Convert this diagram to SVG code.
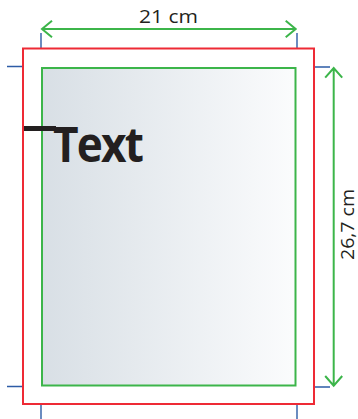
<svg xmlns="http://www.w3.org/2000/svg" width="358" height="419" viewBox="0 0 358 419">
<defs>
<linearGradient id="paper" x1="0" y1="0" x2="1" y2="0">
<stop offset="0" stop-color="#d8dfe5"/>
<stop offset="1" stop-color="#fbfcfd"/>
</linearGradient>
<style>
.crop{stroke:#2d5ca6;stroke-width:1.4;fill:none}
.dim{stroke:#3cb54a;stroke-width:2;fill:none}
.lbl{font-family:"Open Sans","DejaVu Sans",sans-serif;font-size:18px;fill:#231f20}
</style>
</defs>
<rect width="358" height="419" fill="#ffffff"/>
<g id="crop-marks">
<path class="crop" d="M41 33V48M297 33V48M41 405V419M297 405V419M7 66.5H23M315 67H330M7 386.5H23M315 387H330"/>
</g>
<g id="bleed">
<rect x="23" y="48.5" width="291" height="355.5" fill="#ffffff" stroke="#ee2a35" stroke-width="2"/>
</g>
<g id="page">
<rect x="42" y="68" width="253.5" height="317.5" fill="url(#paper)" stroke="#3cb54a" stroke-width="2"/>
</g>
<g id="text-node">
<rect x="24" y="126" width="32" height="5" fill="#231f20"/>
<text x="53" y="162" font-family="'Open Sans','DejaVu Sans',sans-serif" font-weight="bold" font-size="48" letter-spacing="-2" fill="#231f20" textLength="89" lengthAdjust="spacingAndGlyphs">Text</text>
</g>
<g id="connectors">
<path class="dim" d="M42 29H295.7M52 20.7L42 29L52 37.3M285.7 20.7L295.7 29L285.7 37.3"/>
<path class="dim" d="M333.7 68V385.7M325.2 77.7L333.7 68L342.2 77.7M325.2 376L333.7 385.7L342.2 376"/>
</g>
<g id="labels">
<text class="lbl" x="168.5" y="22.7" text-anchor="middle" textLength="59" lengthAdjust="spacingAndGlyphs">21 cm</text>
<text class="lbl" transform="translate(354 224.5) rotate(-90)" text-anchor="middle" textLength="71" lengthAdjust="spacingAndGlyphs">26,7 cm</text>
</g>
</svg>
